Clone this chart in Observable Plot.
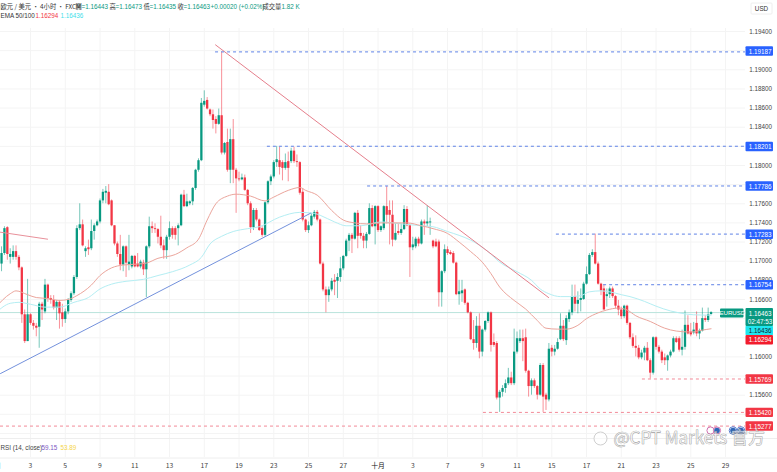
<!DOCTYPE html>
<html><head><meta charset="utf-8">
<style>html,body{margin:0;padding:0;background:#fff}svg{display:block}</style>
<script src="https://cdn.jsdelivr.net/npm/d3@7"></script>
<script src="https://cdn.jsdelivr.net/npm/@observablehq/plot@0.6"></script>
</head><body><div id="c"></div>
<script>
const firstCandle = 2;
const opens = [1.1697,1.1708,1.1735,1.1704,1.1704,1.1710,1.1704,1.1693,1.1644,
1.1616,1.1644,1.1635,1.1632,1.1631,1.1655,1.1647,1.1675,1.1661,1.1659,
1.1651,1.1657,1.1646,1.1639,1.1647,1.1659,1.1666,1.1683,1.1734,1.1738,
1.1710,1.1714,1.1713,1.1731,1.1737,1.1741,1.1763,1.1771,1.1772,1.1763,
1.1737,1.1718,1.1707,1.1696,1.1715,1.1696,1.1694,1.1705,1.1697,1.1694,
1.1698,1.1691,1.1715,1.1736,1.1734,1.1733,1.1725,1.1716,1.1711,1.1725,
1.1734,1.1734,1.1734,1.1737,1.1769,1.1757,1.1760,1.1762,1.1776,1.1795,
1.1805,1.1863,1.1868,1.1858,1.1853,1.1848,1.1843,1.1852,1.1813,1.1824,
1.1795,1.1827,1.1795,1.1786,1.1785,1.1787,1.1774,1.1760,1.1735,1.1753,
1.1743,1.1734,1.1727,1.1761,1.1783,1.1788,1.1803,1.1805,1.1803,1.1797,
1.1804,1.1804,1.1815,1.1804,1.1803,1.1772,1.1743,1.1732,1.1737,1.1746,
1.1751,1.1743,1.1697,1.1670,1.1664,1.1670,1.1680,1.1679,1.1683,1.1692,
1.1705,1.1721,1.1727,1.1723,1.1750,1.1729,1.1726,1.1721,1.1728,1.1755,
1.1736,1.1757,1.1732,1.1734,1.1757,1.1753,1.1748,1.1722,1.1731,1.1729,
1.1733,1.1754,1.1737,1.1714,1.1715,1.1723,1.1718,1.1741,1.1739,1.1740,
1.1721,1.1720,1.1720,1.1667,1.1689,1.1712,1.1709,1.1708,1.1698,1.1665,
1.1666,1.1670,1.1656,1.1646,1.1618,1.1614,1.1632,1.1605,1.1628,1.1637,
1.1646,1.1615,1.1614,1.1557,1.1563,1.1567,1.1572,1.1578,1.1572,1.1605,
1.1616,1.1619,1.1620,1.1585,1.1569,1.1575,1.1569,1.1560,1.1591,1.1560,
1.1555,1.1609,1.1605,1.1608,1.1618,1.1632,1.1617,1.1639,1.1646,1.1663,
1.1655,1.1659,1.1660,1.1676,1.1686,1.1706,1.1709,1.1697,1.1676,1.1671,
1.1663,1.1665,1.1671,1.1663,1.1653,1.1649,1.1642,1.1653,1.1635,1.1620,
1.1611,1.1609,1.1599,1.1604,1.1609,1.1596,1.1583,1.1620,1.1610,1.1605,
1.1599,1.1596,1.1601,1.1605,1.1619,1.1619,1.1607,1.1610,1.1633,1.1626,
1.1625,1.1635,1.1624,1.1627,1.1640,1.1638,1.16443];
const closes = [1.1708,1.1734,1.1707,1.1707,1.1710,1.1704,1.1693,1.1644,1.1616,
1.1644,1.1635,1.1632,1.1630,1.1655,1.1649,1.1675,1.1661,1.1659,1.1651,
1.1657,1.1645,1.1639,1.1647,1.1659,1.1666,1.1683,1.1734,1.1738,1.1716,
1.1713,1.1712,1.1731,1.1737,1.1741,1.1763,1.1772,1.1773,1.1759,1.1737,
1.1718,1.1707,1.1696,1.1715,1.1698,1.1699,1.1705,1.1694,1.1694,1.1699,
1.1691,1.1715,1.1736,1.1734,1.1733,1.1725,1.1716,1.1711,1.1725,1.1734,
1.1727,1.1727,1.1737,1.1769,1.1757,1.1762,1.1762,1.1776,1.1795,1.1805,
1.1865,1.1867,1.1859,1.1853,1.1847,1.1843,1.1852,1.1813,1.1823,1.1795,
1.1827,1.1795,1.1786,1.1785,1.1787,1.1774,1.1760,1.1735,1.1753,1.1743,
1.1732,1.1727,1.1761,1.1783,1.1788,1.1803,1.1806,1.1798,1.1797,1.1803,
1.1797,1.1815,1.1804,1.1803,1.1771,1.1743,1.1732,1.1737,1.1747,1.1751,
1.1743,1.1697,1.1670,1.1664,1.1670,1.1679,1.1678,1.1683,1.1692,1.1705,
1.1721,1.1727,1.1723,1.1750,1.1726,1.1726,1.1721,1.1728,1.1755,1.1736,
1.1757,1.1732,1.1736,1.1757,1.1748,1.1748,1.1722,1.1729,1.1729,1.1733,
1.1754,1.1737,1.1714,1.1717,1.1723,1.1718,1.1741,1.1739,1.1741,1.1741,
1.1715,1.1715,1.1667,1.1689,1.1712,1.1708,1.1707,1.1698,1.1665,1.1668,
1.1669,1.1656,1.1646,1.1618,1.1614,1.1632,1.1605,1.1628,1.1637,1.1646,
1.1612,1.1612,1.1557,1.1563,1.1567,1.1572,1.1578,1.1572,1.1605,1.1619,
1.1619,1.1616,1.1585,1.1569,1.1575,1.1569,1.1560,1.1591,1.1558,1.1555,
1.1608,1.1605,1.1608,1.1615,1.1632,1.1618,1.1640,1.1646,1.1663,1.1655,
1.1659,1.1661,1.1676,1.1686,1.1706,1.1709,1.1697,1.1676,1.1669,1.1649,
1.1665,1.1671,1.1663,1.1653,1.1649,1.1642,1.1653,1.1635,1.1620,1.1611,
1.1609,1.1599,1.1604,1.1609,1.1596,1.1583,1.1620,1.1610,1.1605,1.1596,
1.1596,1.1601,1.1605,1.1619,1.1615,1.1607,1.1610,1.1633,1.1624,1.1623,
1.1628,1.1624,1.1627,1.1640,1.1638,1.1644,1.16463];
const highs = [1.1715,1.1736,1.1736,1.1713,1.1716,1.1716,1.1706,1.1694,1.1649,
1.1681,1.1645,1.1638,1.1635,1.1657,1.1657,1.1681,1.1676,1.1664,1.1664,
1.1659,1.1659,1.1655,1.1650,1.1661,1.1668,1.1685,1.1737,1.1760,1.1743,
1.1715,1.1722,1.1743,1.1739,1.1743,1.1765,1.1775,1.1778,1.1780,1.1764,
1.1737,1.1720,1.1727,1.1716,1.1716,1.1727,1.1706,1.1706,1.1708,1.1701,
1.1701,1.1716,1.1746,1.1741,1.1739,1.1734,1.1747,1.1722,1.1727,1.1741,
1.1736,1.1736,1.1739,1.1770,1.1774,1.1770,1.1763,1.1777,1.1796,1.1807,
1.1870,1.1878,1.1871,1.1859,1.1858,1.1851,1.1859,1.19187,1.1824,1.1838,
1.1838,1.1848,1.1797,1.1793,1.1791,1.1790,1.1775,1.1762,1.1755,1.1755,
1.1744,1.1736,1.1762,1.1784,1.1790,1.1805,1.1820,1.1819,1.1805,1.1812,
1.1814,1.1818,1.1819,1.1811,1.1804,1.1776,1.1744,1.1741,1.1750,1.1753,
1.1753,1.1744,1.1699,1.1673,1.1673,1.1682,1.1686,1.1687,1.1704,1.1706,
1.1723,1.1729,1.1729,1.1751,1.1753,1.1737,1.1729,1.1730,1.1760,1.1758,
1.1758,1.1758,1.1737,1.1758,1.1778,1.1763,1.1763,1.1739,1.1739,1.1739,
1.1758,1.1757,1.1739,1.1725,1.1725,1.1725,1.1743,1.1743,1.1758,1.1745,
1.1722,1.1723,1.1722,1.1690,1.1717,1.1715,1.1711,1.1710,1.1699,1.1680,
1.1680,1.1671,1.1657,1.1647,1.1638,1.1642,1.1645,1.1629,1.1638,1.1647,
1.1647,1.1624,1.1616,1.1565,1.1570,1.1576,1.1588,1.1584,1.1629,1.1626,
1.1628,1.1628,1.1629,1.1586,1.1577,1.1577,1.1570,1.1593,1.1593,1.1562,
1.1614,1.1612,1.1612,1.1619,1.1645,1.1638,1.1643,1.1649,1.1675,1.1675,
1.1668,1.1671,1.1678,1.1694,1.1708,1.1712,1.17283,1.1699,1.1677,1.1675,
1.1671,1.1673,1.1673,1.1664,1.1659,1.1652,1.1654,1.1654,1.1636,1.1624,
1.1622,1.1612,1.1607,1.1611,1.1615,1.1598,1.1621,1.1621,1.1612,1.1607,
1.1603,1.1602,1.1607,1.1621,1.1621,1.1621,1.1628,1.1648,1.1643,1.1635,
1.1636,1.1647,1.1629,1.1651,1.1643,1.1651,1.16473];
const lows = [1.1689,1.1706,1.1701,1.1697,1.1701,1.1701,1.1690,1.1635,1.1614,
1.1616,1.1633,1.1628,1.1621,1.1609,1.1638,1.1645,1.1657,1.1655,1.1649,
1.1638,1.1629,1.1631,1.1635,1.1644,1.1657,1.1664,1.1681,1.1732,1.1715,
1.1704,1.1706,1.1711,1.1722,1.1736,1.1739,1.1760,1.1760,1.1758,1.1736,
1.1716,1.1704,1.1690,1.1689,1.1683,1.1690,1.1692,1.1693,1.1693,1.1692,
1.1685,1.1662,1.1713,1.1729,1.1729,1.1718,1.1713,1.1702,1.1702,1.1722,
1.1723,1.1722,1.1716,1.1736,1.1756,1.1756,1.1758,1.1758,1.1774,1.1793,
1.1804,1.1861,1.1858,1.1851,1.1838,1.1833,1.1842,1.1811,1.1811,1.1793,
1.1781,1.1781,1.1750,1.1783,1.1784,1.1773,1.1758,1.1729,1.1732,1.1741,
1.1731,1.1725,1.1725,1.1759,1.1779,1.1786,1.1798,1.1790,1.1784,1.1795,
1.1783,1.1802,1.1802,1.1798,1.1769,1.1741,1.1730,1.1729,1.1736,1.1744,
1.1741,1.1696,1.1668,1.1646,1.1657,1.1668,1.1664,1.1661,1.1678,1.1690,
1.1704,1.1710,1.1708,1.1722,1.1713,1.1723,1.1713,1.1713,1.1727,1.1735,
1.1717,1.1730,1.1730,1.1732,1.1739,1.1717,1.1715,1.1721,1.1727,1.1727,
1.1732,1.1736,1.1683,1.1711,1.1713,1.1715,1.1717,1.1727,1.1736,1.1727,
1.1713,1.1714,1.1652,1.1652,1.1687,1.1706,1.1706,1.1697,1.1664,1.1654,
1.1657,1.1654,1.1645,1.1617,1.1607,1.1609,1.1598,1.1600,1.1626,1.1635,
1.1605,1.1610,1.1555,1.1542,1.1558,1.1562,1.1570,1.1570,1.1570,1.1603,
1.1614,1.1595,1.1583,1.1558,1.1560,1.1567,1.1555,1.1559,1.1542,1.1544,
1.1553,1.1600,1.1601,1.1607,1.1617,1.1616,1.1612,1.1636,1.1643,1.1647,
1.1645,1.1647,1.1659,1.1675,1.1685,1.1704,1.1696,1.1675,1.1664,1.1649,
1.1652,1.1661,1.1661,1.1650,1.1643,1.1639,1.1640,1.1633,1.1618,1.1609,
1.1600,1.1597,1.1597,1.1596,1.1595,1.15769,1.1581,1.1607,1.1603,1.1593,
1.1591,1.1585,1.1599,1.1604,1.1614,1.1605,1.1601,1.1607,1.1623,1.1621,
1.1623,1.1621,1.1618,1.1626,1.1636,1.1636,1.16435];

const ema50Idx = [0,5,7,11,14,18,22,25,28,33,36,40,44,49,52,56,62,66,70,73,76,80,83,88,93,96,101,105,107,111,116,120,124,128,133,137,142,147,151,156,160,164,168,171,174,179,183,187,190,194,197,201,204,208,211,215,218,221,226,231,235,240,244,247];
const ema50Val = [1.1652,1.1666,1.1669,1.1665,1.1662,1.1661,1.1659,1.1660,1.1664,1.1675,1.1685,1.1693,1.1696,1.1697,1.1698,1.1703,1.1707,1.1714,1.1723,1.1743,1.1760,1.1768,1.1770,1.1768,1.1763,1.1767,1.1774,1.1777,1.1774,1.1769,1.1753,1.1743,1.1740,1.1739,1.1740,1.1740,1.1740,1.1737,1.1734,1.1729,1.1720,1.1710,1.1699,1.1687,1.1673,1.1659,1.1650,1.1638,1.1630,1.1629,1.1629,1.1633,1.1640,1.1646,1.1649,1.1651,1.1649,1.1643,1.1637,1.1630,1.1627,1.1626,1.1628,1.16294];
const ema100Idx = [0,5,8,12,17,22,27,32,36,40,45,51,56,61,67,71,74,78,82,87,91,98,105,110,112,117,121,126,133,140,147,151,156,160,164,170,174,180,185,188,191,195,198,202,205,209,212,216,219,224,228,233,236,241,247];
const ema100Val = [1.1646,1.1656,1.1657,1.1655,1.1652,1.1652,1.1657,1.1662,1.1671,1.1676,1.1679,1.1681,1.1685,1.1689,1.1696,1.1704,1.1718,1.1726,1.1731,1.1734,1.1736,1.1746,1.1751,1.1750,1.1748,1.1741,1.1737,1.1737,1.1741,1.1739,1.1737,1.1736,1.1731,1.1727,1.1722,1.1710,1.1699,1.1689,1.1680,1.1671,1.1666,1.1663,1.1663,1.1664,1.1668,1.1669,1.1668,1.1665,1.1663,1.1658,1.1653,1.1648,1.1646,1.1644,1.16436];

const levelPrices = [1.19187,1.18201,1.17786,1.17283,1.16754,1.15769,1.15420,1.15277];
const levelStarts = [75.9,93.8,128.4,193.6,209.9,223.3,168.4,1.64];
const levelKinds = ["up","up","up","up","up","down","down","down"];
const lastPrice = 1.16463;

const trendRedIdx = [75.9,190.9], trendRedVal = [1.1926,1.1662];
const trendSmallIdx = [0,17.9], trendSmallVal = [1.1731,1.1723];
const trendBlueIdx = [1.64,108.7], trendBlueVal = [1.15826,1.17501];

const tickLabels = ["9月","3","5","9","11","13","17","19","23","25","27","十月","3","7","9","11","15","17","21","23","25","29"];
const axisPrices = [1.194,1.19,1.188,1.186,1.184,1.182,1.18,1.178,1.176,1.174,1.172,1.17,1.168,1.166,1.16,1.156];
const gridPrices = d3.range(0,22).map(k=>1.194-k*0.002);

const UP="#089981", DOWN="#f23645", BLUE="#2962ff", FONT="'Liberation Sans',Arial,sans-serif", CJK="'Noto Sans CJK SC','Liberation Sans',sans-serif";

// layout helpers: page pixel <-> scale value
const candleStep = 2.896, x0 = -4.75;
const X = px => (px - x0) / candleStep;
const P = py => 1.19724 - py * (1.19724 - 1.14792) / 472;

const candles = opens.map((o,k)=>({i:k+firstCandle,o,c:closes[k],h:highs[k],l:lows[k],col:closes[k]>=o?UP:DOWN}));
const pts = (xs,ys)=>xs.map((x,k)=>({x,y:ys[k]}));
const levels = levelPrices.map((p,k)=>({p,s:levelStarts[k],col:levelKinds[k]==="up"?"#5f82e6":"#f28a98"}));

const note = (t,px,py,fill,o={}) => Plot.text([t],{x:()=>X(px),y:()=>P(py),text:d=>d,fill,fontSize:6.3,fontFamily:FONT,textAnchor:"start",...o});

const badges = [
  {p:1.19187,y:51,c:BLUE,t:"1.19187",f:"#fff"},
  {p:1.18201,y:146.5,c:BLUE,t:"1.18201",f:"#fff"},
  {p:1.17786,y:186,c:BLUE,t:"1.17786",f:"#fff"},
  {p:1.17283,y:234.3,c:BLUE,t:"1.17283",f:"#fff"},
  {p:1.16754,y:284.7,c:BLUE,t:"1.16754",f:"#fff"},
  {p:1.16436,y:330.5,c:"#1fe6ee",t:"1.16436",f:"#123"},
  {p:1.16294,y:339.7,c:"#f21c2c",t:"1.16294",f:"#fff"},
  {p:1.15769,y:379,c:DOWN,t:"1.15769",f:"#fff"},
  {p:1.15420,y:412.4,c:DOWN,t:"1.15420",f:"#fff"},
  {p:1.15277,y:426,c:DOWN,t:"1.15277",f:"#fff"}
];

const chart = Plot.plot({
  width:777,height:472,margin:0,
  style:{background:"#fff",fontFamily:FONT},
  x:{axis:null,domain:[X(0),X(777)],range:[0,777]},
  y:{axis:null,domain:[P(0),P(472)],range:[0,472]},
  marks:[
    Plot.ruleX(tickLabels.map((_,k)=>k*12),{y1:P(28),y2:P(457),stroke:"#f4f4f4",strokeWidth:1}),
    Plot.ruleY(gridPrices,{x1:X(0),x2:X(745),stroke:"#f4f4f4",strokeWidth:1}),
    Plot.ruleY([1],{y:()=>P(438),x1:X(0),x2:X(777),stroke:"#eeeeee"}),
    Plot.ruleY([1],{y:()=>P(457.5),x1:X(0),x2:X(777),stroke:"#eeeeee"}),
    Plot.ruleY([lastPrice],{x1:X(0),x2:X(745),stroke:"#b9e3dc",strokeWidth:1}),
    Plot.ruleX(candles,{x:"i",y1:"l",y2:"h",stroke:"col",strokeWidth:1,strokeOpacity:.55}),
    Plot.ruleX(candles,{x:"i",y1:"o",y2:"c",stroke:"col",strokeWidth:2.3}),
    Plot.line(pts(ema100Idx,ema100Val),{x:"x",y:"y",stroke:"#b4eef3",strokeWidth:1,curve:"monotone-x"}),
    Plot.line(pts(ema50Idx,ema50Val),{x:"x",y:"y",stroke:"#eba59c",strokeWidth:1,curve:"monotone-x"}),
    Plot.line(pts(trendRedIdx,trendRedVal),{x:"x",y:"y",stroke:"#e57f8c",strokeWidth:1}),
    Plot.line(pts(trendSmallIdx,trendSmallVal),{x:"x",y:"y",stroke:"#e8909a",strokeWidth:1}),
    Plot.line(pts(trendBlueIdx,trendBlueVal),{x:"x",y:"y",stroke:"#7391dc",strokeWidth:1}),
    Plot.ruleY(levels,{y:"p",x1:"s",x2:()=>X(745),stroke:"col",strokeWidth:1,strokeDasharray:"3,3"}),

    // top legend
    note("欧元 / 美元 · 4小时 · FXCM",0,6,"#333",{fontFamily:CJK,lineAnchor:"middle"}),
    note("開",75,6,"#333",{fontFamily:CJK}),note("=1.16443",81,6,UP),
    note("高",109,6,"#333",{fontFamily:CJK}),note("=1.16473",115,6,UP),
    note("低",143,6,"#333",{fontFamily:CJK}),note("=1.16435",149,6,UP),
    note("收",177,6,"#333",{fontFamily:CJK}),note("=1.16463",183,6,UP),
    note("+0.00020 (+0.02%)",210,6,UP),
    note("成交量",262,6,"#333",{fontFamily:CJK}),note("1.82 K",281,6,UP),
    note("EMA 50/100",0,15,"#333"),
    note("1.16294",35,15,DOWN),note("1.16436",60,15,"#3fe0ea"),
    // RSI legend
    note("RSI (14, close)",0,447,"#444"),
    note("59.15",41,447,"#7e57c2"),note("53.89",60,447,"#f5d547"),

    // date axis
    Plot.text(tickLabels,{x:(_,k)=>k*12,y:()=>P(465),text:d=>d,fontSize:6.8,fontFamily:CJK,
      fill:d=>(d==="十月"||d==="9月")?"#111":"#444",fontWeight:d=>(d==="十月"||d==="9月")?"bold":"normal"}),

    // price axis
    Plot.text(axisPrices,{x:()=>X(760),y:d=>d,text:d=>d.toFixed(5),fontSize:6.3,fontFamily:FONT,fill:"#444"}),
    Plot.rect(["USD"],{x1:()=>X(751),x2:()=>X(772),y1:()=>P(3),y2:()=>P(14),fill:"#fff",stroke:"#eeeeee",rx:1}),
    Plot.text(["USD"],{x:()=>X(761),y:()=>P(8),text:d=>d,fontSize:6.3,fontFamily:FONT,fill:"#333"}),

    // right-hand tags
    Plot.rect(badges,{x1:()=>X(745.5),x2:()=>X(773),y1:d=>P(d.y-4.7),y2:d=>P(d.y+4.7),fill:"c",rx:1}),
    Plot.text(badges,{x:()=>X(759.5),y:d=>P(d.y),text:"t",fill:"f",fontSize:6.3,fontFamily:FONT}),
    Plot.rect(["p"],{x1:()=>X(745.5),x2:()=>X(773),y1:()=>P(308),y2:()=>P(326),fill:UP,rx:1}),
    Plot.text(["1.16463"],{x:()=>X(759.5),y:()=>P(313),text:d=>d,fill:"#fff",fontSize:6.3,fontFamily:FONT}),
    Plot.text(["02:47:53"],{x:()=>X(759.5),y:()=>P(321),text:d=>d,fill:"#fff",fontSize:6.3,fontFamily:FONT}),
    Plot.rect(["n"],{x1:()=>X(720),x2:()=>X(743.5),y1:()=>P(308.5),y2:()=>P(317.5),fill:UP,rx:1}),
    Plot.text(["EURUSD"],{x:()=>X(731.8),y:()=>P(313),text:d=>d,fill:"#fff",fontSize:6.1,fontFamily:FONT}),

    // event icons
    Plot.dot([710,716.5],{x:d=>X(d),y:()=>P(430),r:3.6,fill:"#fff",stroke:"#d070b0",strokeWidth:1}),
    Plot.dot([716.5,732.5,740.5],{x:d=>X(d),y:()=>P(430),r:2.8,fill:"#2f66b8"}),
    Plot.dot([732.5,740.5],{x:d=>X(d),y:()=>P(430),r:3.8,fill:"none",stroke:"#5a7fd0",strokeWidth:1}),

    // watermark
    Plot.dot([600],{x:d=>X(d),y:()=>P(438),r:6.5,fill:"#fff",fillOpacity:.5,stroke:"#cfcfcf",strokeWidth:1}),
    Plot.text(["@CPT Markets 官方"],{x:()=>X(613),y:()=>P(438),text:d=>d,textAnchor:"start",fontSize:17,fontFamily:CJK,
      fill:"#fff",fillOpacity:.55,stroke:"#8f8f8f",strokeWidth:.6})
  ]
});
document.getElementById("c").append(chart);
</script></body></html>
